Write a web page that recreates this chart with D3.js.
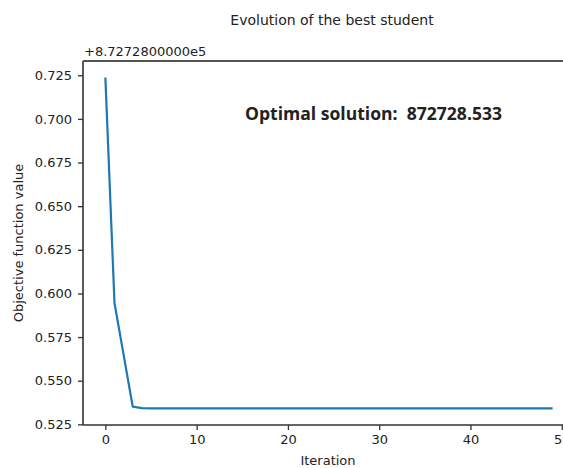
<!DOCTYPE html>
<html>
<head>
<meta charset="utf-8">
<script src="https://cdn.jsdelivr.net/npm/d3@7"></script>
<style>
  body { margin: 0; background: #fff; }
  text { font-family: "DejaVu Sans", sans-serif; fill: #222; }
</style>
</head>
<body>
<div id="chart"></div>
<script>
// Chart data
var iterations = d3.range(0, 50);
var bestValues = [
  0.7237, 0.5945, 0.5648, 0.5351, 0.5343, 0.5341, 0.5341, 0.5341, 0.5341, 0.5341,
  0.5341, 0.5341, 0.5341, 0.5341, 0.5341, 0.5341, 0.5341, 0.5341, 0.5341, 0.5341,
  0.5341, 0.5341, 0.5341, 0.5341, 0.5341, 0.5341, 0.5341, 0.5341, 0.5341, 0.5341,
  0.5341, 0.5341, 0.5341, 0.5341, 0.5341, 0.5341, 0.5341, 0.5341, 0.5341, 0.5341,
  0.5341, 0.5341, 0.5341, 0.5341, 0.5341, 0.5341, 0.5341, 0.5341, 0.5341, 0.5341
];
var xTicks = [0, 10, 20, 30, 40, 50];
var yTicks = [0.525, 0.550, 0.575, 0.600, 0.625, 0.650, 0.675, 0.700, 0.725];
var titleText = "Evolution of the best student";
var offsetText = "+8.7272800000e5";
var noteText = "Optimal solution:  872728.533";

// SVG area
var svgWidth = 563;
var svgHeight = 468;

// plot frame (right edge runs off the picture)
var frame = { left: 83, right: 575, top: 61, bottom: 425 };

var svg = d3.select("#chart")
  .append("svg")
  .attr("width", svgWidth)
  .attr("height", svgHeight);

// matplotlib style 5% margins
var xMin = d3.min(iterations), xMax = d3.max(iterations);
var xPad = (xMax - xMin) * 0.05;
var yMin = d3.min(bestValues), yMax = d3.max(bestValues);
var yPad = (yMax - yMin) * 0.05;

var xScale = d3.scaleLinear()
  .domain([xMin - xPad, xMax + xPad])
  .range([frame.left, frame.right]);

var yScale = d3.scaleLinear()
  .domain([yMin - yPad, yMax + yPad])
  .range([frame.bottom, frame.top]);

var bottomAxis = d3.axisBottom(xScale)
  .tickValues(xTicks)
  .tickSize(5)
  .tickPadding(5)
  .tickFormat(d3.format("d"));

var leftAxis = d3.axisLeft(yScale)
  .tickValues(yTicks)
  .tickSize(5)
  .tickPadding(6)
  .tickFormat(d3.format(".3f"));

var gx = svg.append("g")
  .attr("transform", `translate(0, ${frame.bottom})`)
  .call(bottomAxis);

var gy = svg.append("g")
  .attr("transform", `translate(${frame.left}, 0)`)
  .call(leftAxis);

[gx, gy].forEach(function (g) {
  g.select(".domain").remove();
  g.selectAll(".tick line").attr("stroke", "#333").attr("stroke-width", 1.3);
  g.selectAll(".tick text")
    .style("font-family", "DejaVu Sans")
    .style("font-size", "13px")
    .attr("fill", "#222");
});

// the line
var line = d3.line()
  .x(function (d, i) { return xScale(iterations[i]); })
  .y(function (d) { return yScale(d); });

svg.append("path")
  .datum(bestValues)
  .attr("fill", "none")
  .attr("stroke", "#1f77b4")
  .attr("stroke-width", 2.2)
  .attr("stroke-linejoin", "round")
  .attr("d", line);

// spines
svg.append("line")
  .attr("x1", frame.left).attr("x2", frame.left)
  .attr("y1", frame.top).attr("y2", frame.bottom)
  .attr("stroke", "#333").attr("stroke-width", 1.6);
svg.append("line")
  .attr("x1", frame.left).attr("x2", frame.right)
  .attr("y1", frame.bottom).attr("y2", frame.bottom)
  .attr("stroke", "#333").attr("stroke-width", 1.6);
svg.append("line")
  .attr("x1", frame.left).attr("x2", frame.right)
  .attr("y1", frame.top).attr("y2", frame.top)
  .attr("stroke", "#555").attr("stroke-width", 1.8);

// texts
svg.append("text")
  .attr("x", 332)
  .attr("y", 25)
  .attr("text-anchor", "middle")
  .style("font-size", "14px")
  .text(titleText);

svg.append("text")
  .attr("x", 84)
  .attr("y", 56)
  .style("font-size", "13px")
  .text(offsetText);

svg.append("text")
  .attr("x", 328)
  .attr("y", 465)
  .attr("text-anchor", "middle")
  .style("font-size", "13px")
  .text("Iteration");

svg.append("text")
  .attr("transform", `translate(23, 243) rotate(-90)`)
  .attr("text-anchor", "middle")
  .style("font-size", "13px")
  .text("Objective function value");

svg.append("text")
  .attr("x", 245)
  .attr("y", 120)
  .attr("textLength", 257)
  .attr("lengthAdjust", "spacingAndGlyphs")
  .style("white-space", "pre")
  .style("font-family", "Open Sans")
  .style("font-weight", "bold")
  .style("font-size", "17px")
  .attr("fill", "#111")
  .text(noteText);
</script>
</body>
</html>
